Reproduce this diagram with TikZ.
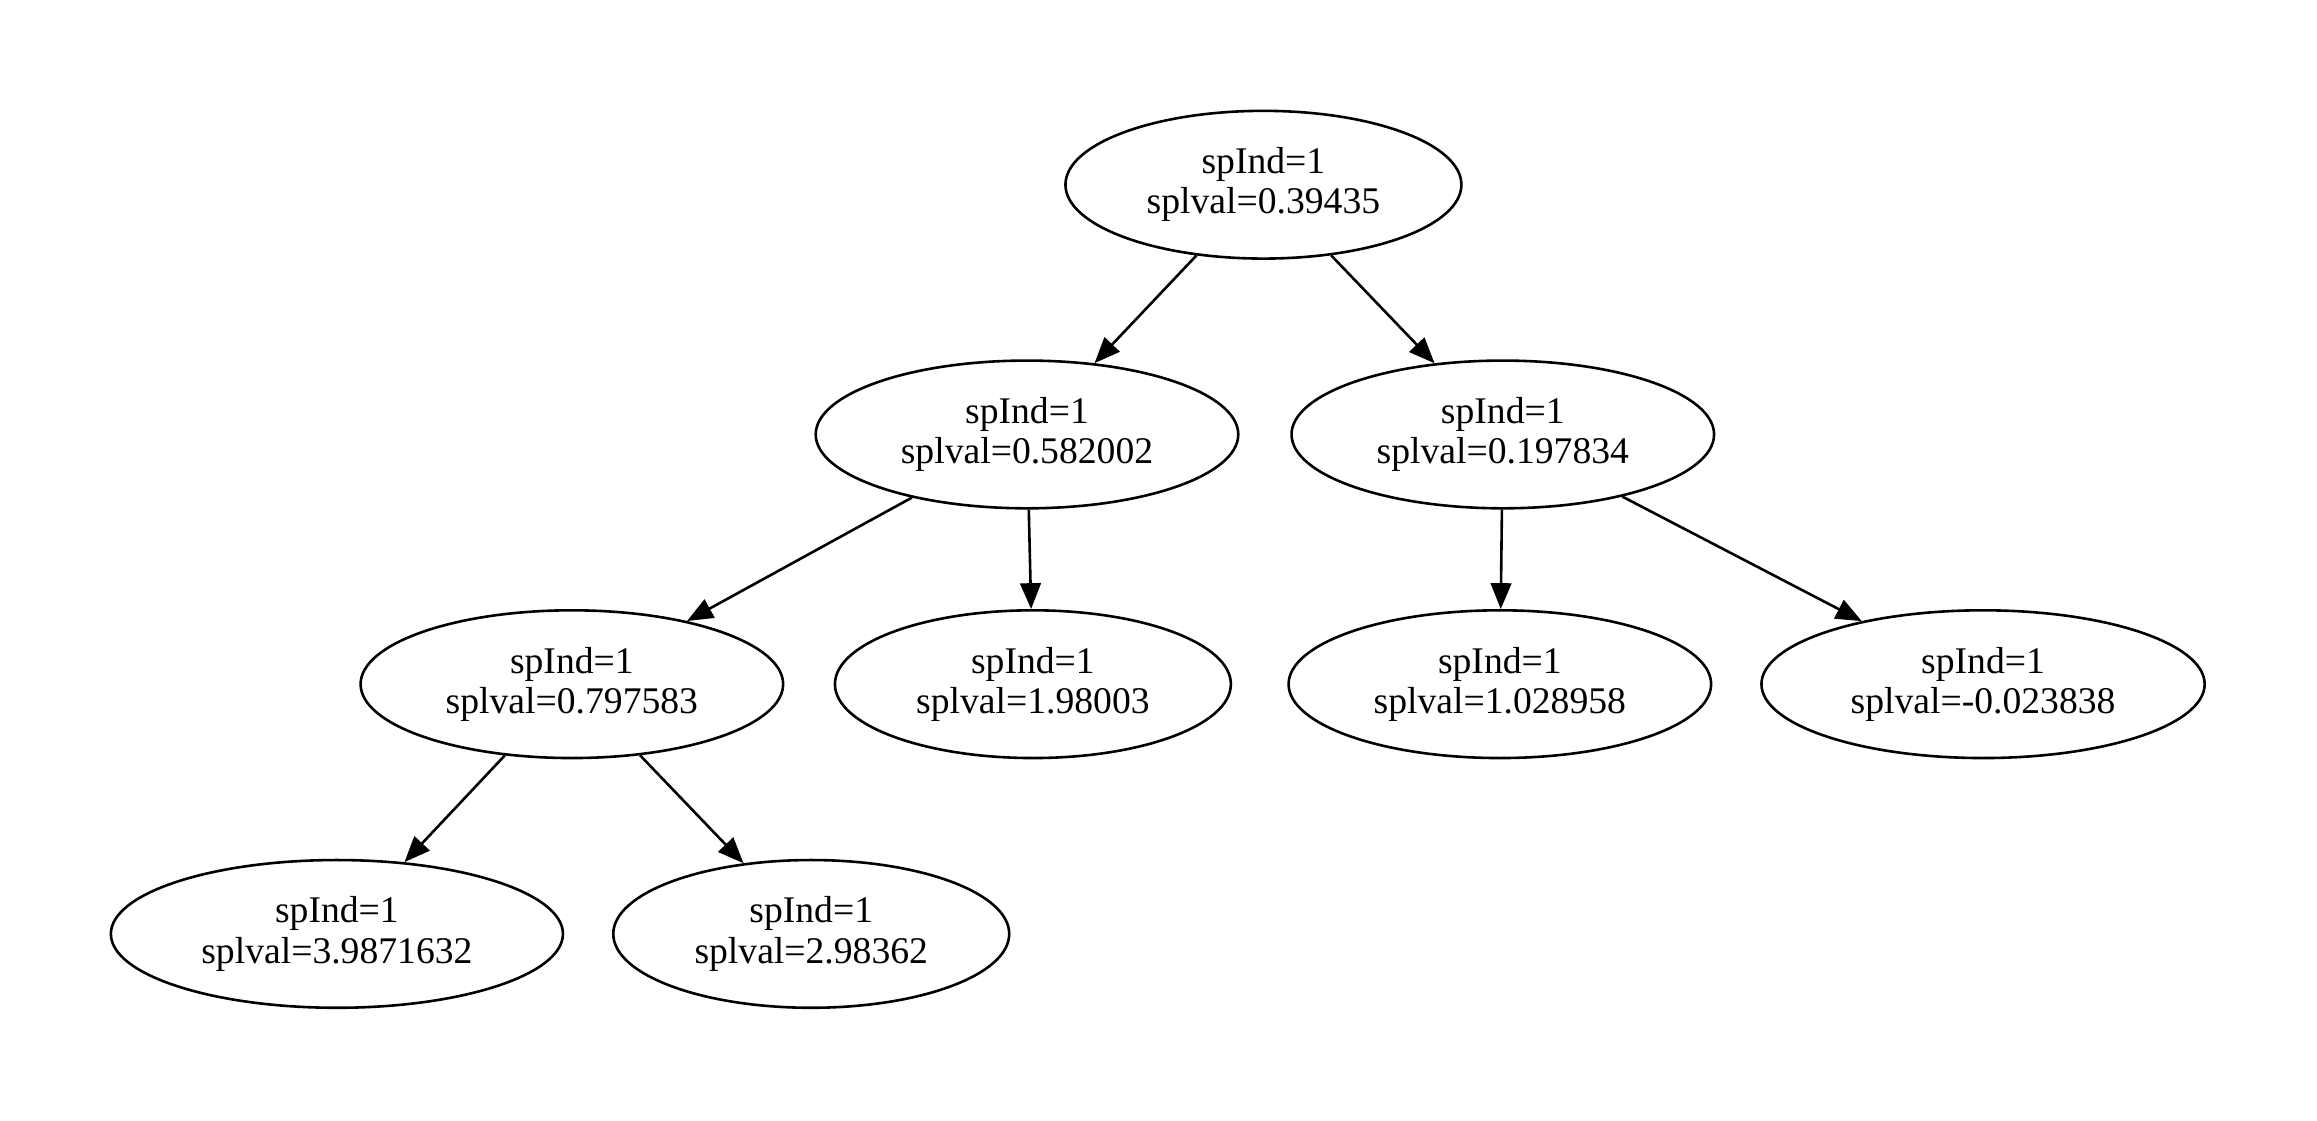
\documentclass[tikz,border=0pt]{standalone}
\usepackage{fontspec}
\setmainfont{Liberation Serif}
\usetikzlibrary{arrows.meta,shapes.geometric}
\begin{document}
\begin{tikzpicture}[x=0.02cm,y=-0.02cm,
  tnode/.style={draw,ellipse,line width=1pt,inner sep=0pt,minimum height=2cm,
    align=center,font=\fontsize{14.5pt}{15.5pt}\selectfont},
  edge/.style={line width=1pt,-{Triangle[length=0.35cm,width=0.28cm]}}]
\useasboundingbox (0,0) rectangle (1568,758);
\node[tnode,minimum width=5.36cm] (r)   at (855,125) {spInd=1\\splval=0.39435};
\node[tnode,minimum width=5.72cm] (a)   at (695,294) {spInd=1\\splval=0.582002};
\node[tnode,minimum width=5.72cm] (b)   at (1017,294) {spInd=1\\splval=0.197834};
\node[tnode,minimum width=5.72cm] (aa)  at (387,463) {spInd=1\\splval=0.797583};
\node[tnode,minimum width=5.36cm] (ab)  at (699,463) {spInd=1\\splval=1.98003};
\node[tnode,minimum width=5.72cm] (ba)  at (1015,463) {spInd=1\\splval=1.028958};
\node[tnode,minimum width=6.0cm]  (bb)  at (1342,463) {spInd=1\\splval=-0.023838};
\node[tnode,minimum width=6.12cm] (aaa) at (228,632) {spInd=1\\splval=3.9871632};
\node[tnode,minimum width=5.36cm] (aab) at (549,632) {spInd=1\\splval=2.98362};
\draw[edge] (r) -- (a);
\draw[edge] (r) -- (b);
\draw[edge] (a) -- (aa);
\draw[edge] (a) -- (ab);
\draw[edge] (b) -- (ba);
\draw[edge] (b) -- (bb);
\draw[edge] (aa) -- (aaa);
\draw[edge] (aa) -- (aab);
\end{tikzpicture}
\end{document}
